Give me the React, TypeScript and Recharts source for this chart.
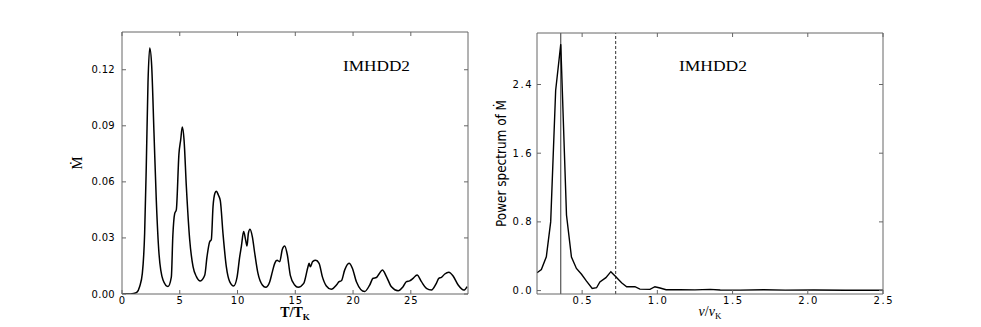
import React from "react";
import { LineChart, Line, XAxis, YAxis, ReferenceLine } from "recharts";

// accretion rate vs time (T/T_K)
const mdotTime = [
  0, 0.5, 1.0, 1.3, 1.53, 1.76, 1.96, 2.1, 2.25, 2.4, 2.57, 2.77, 2.97, 3.2, 3.55, 3.98,
  4.27, 4.4, 4.56, 4.7, 4.93, 5.08, 5.22, 5.37, 5.57, 5.86, 6.15, 6.44, 6.78, 7.16, 7.36,
  7.59, 7.73, 7.88, 8.05, 8.17, 8.34, 8.51, 8.74, 9.03, 9.32, 9.67, 9.96, 10.19, 10.33,
  10.53, 10.7, 10.82, 10.94, 11.08, 11.28, 11.49, 11.77, 12.15, 12.44, 12.79, 13.02, 13.22,
  13.42, 13.65, 13.88, 14.08, 14.31, 14.57, 14.95, 15.24, 15.73, 16.1, 16.19, 16.3, 16.5,
  16.77, 17.06, 17.34, 17.69, 18.12, 18.56, 18.79, 18.99, 19.28, 19.65, 19.94, 20.29, 21.0,
  21.44, 21.73, 22.02, 22.25, 22.54, 22.89, 23.32, 23.9, 24.33, 24.62, 24.9, 25.2, 25.54,
  25.92, 26.35, 26.78, 27.21, 27.42, 27.65, 27.94, 28.29, 28.66, 29.1, 29.59, 29.87,
];
const mdotValue = [
  0, 0, 0.0003, 0.001, 0.004, 0.011, 0.0325, 0.068, 0.113, 0.1316, 0.122, 0.086, 0.05, 0.0218,
  0.0075, 0.004, 0.009, 0.031, 0.043, 0.045, 0.075, 0.0825, 0.0893, 0.0825, 0.0575, 0.029,
  0.0146, 0.0093, 0.007, 0.01, 0.02, 0.028, 0.029, 0.0468, 0.054, 0.055, 0.053, 0.05, 0.0325,
  0.0146, 0.0066, 0.0043, 0.009, 0.02, 0.0254, 0.0334, 0.029, 0.0257, 0.0325, 0.0346, 0.0307,
  0.0218, 0.011, 0.0048, 0.0036, 0.0066, 0.012, 0.0164, 0.018, 0.0173, 0.024, 0.0257, 0.021,
  0.01, 0.0048, 0.0036, 0.0057, 0.0146, 0.0164, 0.0146, 0.0173, 0.018, 0.0164, 0.0093, 0.0043,
  0.0025, 0.0048, 0.0066, 0.0071, 0.0129, 0.0164, 0.0138, 0.0066, 0.0013, 0.0048, 0.0084,
  0.0088, 0.0107, 0.0129, 0.0093, 0.0039, 0.0018, 0.0039, 0.0066, 0.007, 0.0084, 0.0102,
  0.0066, 0.003, 0.0021, 0.0057, 0.0084, 0.0089, 0.0107, 0.0116, 0.0096, 0.0048, 0.0021, 0.004,
];
const timeTicks = [0, 5, 10, 15, 20, 25];
const mdotTicks = [0, 0.03, 0.06, 0.09, 0.12];

// power spectrum vs nu/nu_K
const freq = [
  0.2, 0.229, 0.262, 0.291, 0.324, 0.358, 0.396, 0.429, 0.462, 0.496, 0.529, 0.567, 0.596,
  0.618, 0.658, 0.691, 0.724, 0.762, 0.796, 0.851, 0.884, 0.951, 0.984, 1.018, 1.058, 1.151,
  1.25, 1.351, 1.418, 1.55, 1.707, 1.85, 2.04, 2.25, 2.5,
];
const power = [
  0.207, 0.246, 0.393, 0.8, 2.33, 2.87, 0.88, 0.39, 0.258, 0.19, 0.11, 0.025, 0.033, 0.1,
  0.15, 0.22, 0.16, 0.09, 0.045, 0.045, 0.017, 0.014, 0.045, 0.03, 0.01, 0.01, 0.008, 0.014,
  0.006, 0.005, 0.01, 0.005, 0.006, 0.004, 0.004,
];
const freqTicks = [0.5, 1.0, 1.5, 2.0, 2.5];
const powerTicks = [0, 0.8, 1.6, 2.4];
const peakFreq = 0.358;
const harmonicFreq = 0.723;

const mdotData = mdotTime.map((t, i) => ({ t, m: mdotValue[i] }));
const psdData = freq.map((f, i) => ({ f, p: power[i] }));

const FRAME = "#666";
const SANS = "'DejaVu Sans', sans-serif";
const SERIF = "'Liberation Serif', 'Times New Roman', serif";

type Side = "bottom" | "top" | "left" | "right";

// matplotlib-ish inward ticks, label optional
function inwardTick(side: Side, gap: number, fmt?: (v: number) => string, spacing = 0) {
  return (props: any) => {
    const { x, y, payload } = props;
    const len = 4;
    const txt = fmt ? fmt(payload.value) : null;
    const textProps = { fontFamily: SANS, fontSize: 10, fill: "#000", letterSpacing: spacing };
    if (side === "bottom") {
      const ay = y - gap;
      return (
        <g>
          <line x1={x} x2={x} y1={ay} y2={ay - len} stroke={FRAME} />
          {txt && (
            <text x={x + spacing / 2} y={y} dy="0.71em" textAnchor="middle" {...textProps}>
              {txt}
            </text>
          )}
        </g>
      );
    }
    if (side === "top") {
      const ay = y + gap;
      return <line x1={x} x2={x} y1={ay} y2={ay + len} stroke={FRAME} />;
    }
    if (side === "left") {
      const ax = x + gap;
      return (
        <g>
          <line x1={ax} x2={ax + len} y1={y} y2={y} stroke={FRAME} />
          {txt && (
            <text x={x} y={y} dy="0.35em" textAnchor="end" {...textProps}>
              {txt}
            </text>
          )}
        </g>
      );
    }
    const ax = x - gap;
    return <line x1={ax} x2={ax - len} y1={y} y2={y} stroke={FRAME} />;
  };
}

function MdotPanel() {
  return (
    <LineChart
      width={490}
      height={327}
      data={mdotData}
      margin={{ top: 31, right: 21, left: 0, bottom: 0 }}
    >
      <XAxis
        dataKey="t"
        type="number"
        domain={[0, 29.95]}
        ticks={timeTicks}
        allowDataOverflow
        height={33}
        stroke={FRAME}
        tickSize={0}
        tickMargin={3}
        tickLine={false}
        tick={inwardTick("bottom", 3, (v) => String(v), 1)}
        label={{
          content: (p: any) => {
            const vb = p.viewBox;
            return (
              <text
                x={vb.x + vb.width / 2}
                y={vb.y + 23}
                textAnchor="middle"
                fontFamily={SERIF}
                fontWeight="bold"
                fontSize={14}
                fill="#000"
              >
                T/T
                <tspan fontSize={9} dy={3}>
                  K
                </tspan>
              </text>
            );
          },
        }}
      />
      <XAxis
        xAxisId="top"
        orientation="top"
        dataKey="t"
        type="number"
        domain={[0, 29.95]}
        ticks={timeTicks}
        allowDataOverflow
        height={1}
        stroke={FRAME}
        tickSize={0}
        tickMargin={0}
        tickLine={false}
        tick={inwardTick("top", 0)}
      />
      <YAxis
        type="number"
        domain={[0, 0.1402]}
        ticks={mdotTicks}
        allowDataOverflow
        width={122}
        stroke={FRAME}
        tickSize={0}
        tickMargin={7}
        tickLine={false}
        tick={inwardTick("left", 7, (v) => v.toFixed(2), 0.3)}
        label={{
          content: (p: any) => {
            const vb = p.viewBox;
            const cy = vb.y + vb.height / 2;
            return (
              <text
                x={77}
                y={cy}
                transform={`rotate(-90 77 ${cy})`}
                textAnchor="middle"
                dominantBaseline="central"
                fontFamily={SERIF}
                fontSize={15}
                fill="#000"
              >
                Ṁ
              </text>
            );
          },
        }}
      />
      <YAxis
        yAxisId="right"
        orientation="right"
        type="number"
        domain={[0, 0.1402]}
        ticks={mdotTicks}
        allowDataOverflow
        width={1}
        stroke={FRAME}
        tickSize={0}
        tickMargin={0}
        tickLine={false}
        tick={inwardTick("right", 0)}
      />
      <Line
        type="monotone"
        dataKey="m"
        stroke="#000"
        strokeWidth={1.5}
        dot={false}
        isAnimationActive={false}
      />
      <text
        x={343}
        y={71}
        fontFamily={SERIF}
        fontSize={14}
        textLength={67}
        lengthAdjust="spacingAndGlyphs"
        fill="#000"
      >
        IMHDD2
      </text>
    </LineChart>
  );
}

function SpectrumPanel() {
  return (
    <LineChart
      width={491}
      height={327}
      data={psdData}
      margin={{ top: 32, right: 97, left: 0, bottom: 0 }}
    >
      <XAxis
        dataKey="f"
        type="number"
        domain={[0.2, 2.5]}
        ticks={freqTicks}
        allowDataOverflow
        height={33}
        stroke={FRAME}
        tickSize={0}
        tickMargin={3}
        tickLine={false}
        tick={inwardTick("bottom", 3, (v) => v.toFixed(1), 1.6)}
        label={{
          content: (p: any) => {
            const vb = p.viewBox;
            return (
              <text
                x={vb.x + vb.width / 2}
                y={vb.y + 22}
                textAnchor="middle"
                fontFamily={SERIF}
                fontSize={14}
                fill="#000"
              >
                <tspan fontStyle="italic">ν</tspan>/<tspan fontStyle="italic">ν</tspan>
                <tspan fontSize={9} dy={3}>
                  K
                </tspan>
              </text>
            );
          },
        }}
      />
      <XAxis
        xAxisId="top"
        orientation="top"
        dataKey="f"
        type="number"
        domain={[0.2, 2.5]}
        ticks={freqTicks}
        allowDataOverflow
        height={1}
        stroke={FRAME}
        tickSize={0}
        tickMargin={0}
        tickLine={false}
        tick={inwardTick("top", 0)}
      />
      <YAxis
        type="number"
        domain={[-0.04, 3.0]}
        ticks={powerTicks}
        allowDataOverflow
        width={47}
        stroke={FRAME}
        tickSize={0}
        tickMargin={4}
        tickLine={false}
        tick={inwardTick("left", 4, (v) => v.toFixed(1), 1.5)}
        label={{
          content: (p: any) => {
            const vb = p.viewBox;
            const cy = vb.y + vb.height / 2;
            return (
              <text
                x={11}
                y={cy}
                transform={`rotate(-90 11 ${cy})`}
                textAnchor="middle"
                dominantBaseline="central"
                fontFamily="'DejaVu Sans Condensed', 'Liberation Sans Narrow', sans-serif"
                fontSize={14}
                textLength={127}
                lengthAdjust="spacingAndGlyphs"
                fill="#000"
              >
                Power spectrum of Ṁ
              </text>
            );
          },
        }}
      />
      <YAxis
        yAxisId="right"
        orientation="right"
        type="number"
        domain={[-0.04, 3.0]}
        ticks={powerTicks}
        allowDataOverflow
        width={1}
        stroke={FRAME}
        tickSize={0}
        tickMargin={0}
        tickLine={false}
        tick={inwardTick("right", 0)}
      />
      <ReferenceLine x={peakFreq} stroke="#333" strokeWidth={1} />
      <ReferenceLine x={harmonicFreq} stroke="#333" strokeWidth={1} strokeDasharray="3 2" />
      <Line
        type="linear"
        dataKey="p"
        stroke="#000"
        strokeWidth={1.4}
        dot={false}
        isAnimationActive={false}
      />
      <text
        x={189}
        y={71}
        fontFamily={SERIF}
        fontSize={14}
        textLength={68}
        lengthAdjust="spacingAndGlyphs"
        fill="#000"
      >
        IMHDD2
      </text>
    </LineChart>
  );
}

export default function App() {
  return (
    <div
      style={{
        position: "absolute",
        left: 0,
        top: 0,
        width: 981,
        height: 327,
        background: "#fff",
      }}
    >
      <div style={{ position: "absolute", left: 0, top: 0 }}>
        <MdotPanel />
      </div>
      <div style={{ position: "absolute", left: 490, top: 0 }}>
        <SpectrumPanel />
      </div>
    </div>
  );
}
